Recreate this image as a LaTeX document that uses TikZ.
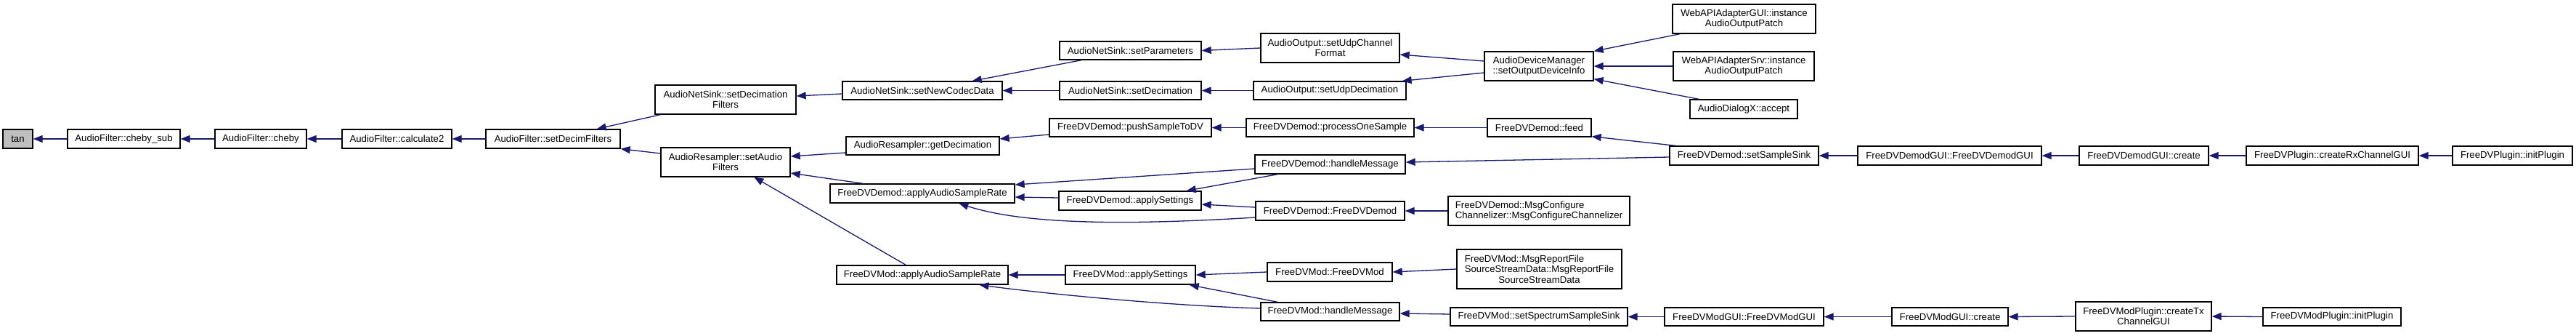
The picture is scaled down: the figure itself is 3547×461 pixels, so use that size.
\documentclass[tikz,border=0pt]{standalone}
\usepackage{fontspec}
\setmainfont{Liberation Sans}
\usetikzlibrary{arrows.meta}
\definecolor{edgecol}{RGB}{25,25,112}
\definecolor{tangray}{RGB}{191,191,191}
\newcommand\bx[7][]{\node[box,#1,minimum width={#4-#3},minimum height={#6-#5}] (#2) at ({(#3+#4)/2},{(#5+#6)/2}) {#7};}
\begin{document}
\begin{tikzpicture}[x=1pt,y=-1pt,
  box/.style={draw=black,line width=1.3pt,fill=white,inner sep=0pt,align=center,
    font=\fontsize{13.2}{14.5}\selectfont},
  e/.style={draw=edgecol,line width=1.3pt,-{Triangle[length=13pt,width=10pt]},color=edgecol}]
\useasboundingbox[fill=white] (0,0) rectangle (3547,461);
% column 0-4
\bx[fill=tangray]{tan}{4}{45}{178}{204}{tan}
\bx{cs}{93}{248}{178}{204}{AudioFilter::cheby\_sub}
\bx{ch}{296}{422}{178}{204}{AudioFilter::cheby}
\bx{calc}{471}{622}{178}{204}{AudioFilter::calculate2}
\bx{sdf}{669}{854}{178}{204}{AudioFilter::setDecimFilters}
% column 5
\bx{ansdf}{902}{1096}{117}{157}{AudioNetSink::setDecimation\\Filters}
\bx{arsaf}{910}{1088}{203}{243}{AudioResampler::setAudio\\Filters}
% column 6
\bx{ansncd}{1160}{1380}{112}{137}{AudioNetSink::setNewCodecData}
\bx{argd}{1165}{1376}{188}{213}{AudioResampler::getDecimation}
\bx{fddaasr}{1143}{1397}{253}{279}{FreeDVDemod::applyAudioSampleRate}
\bx{fdmaasr}{1152}{1388}{365}{391}{FreeDVMod::applyAudioSampleRate}
% column 7
\bx{ansp}{1459}{1654}{57}{82}{AudioNetSink::setParameters}
\bx{ansd}{1459}{1654}{112}{137}{AudioNetSink::setDecimation}
\bx{pstd}{1445}{1668}{163}{188}{FreeDVDemod::pushSampleToDV}
\bx{fddas}{1458}{1654}{263}{289}{FreeDVDemod::applySettings}
\bx{fdmas}{1467}{1646}{365}{391}{FreeDVMod::applySettings}
% column 8
\bx{aosucf}{1736}{1927}{46}{86}{AudioOutput::setUdpChannel\\Format}
\bx{aosud}{1726}{1936}{112}{137}{AudioOutput::setUdpDecimation}
\bx{fddpos}{1716}{1947}{163}{188}{FreeDVDemod::processOneSample}
\bx{fddhm}{1728}{1935}{213}{239}{FreeDVDemod::handleMessage}
\bx{fddfdd}{1729}{1934}{277}{303}{FreeDVDemod::FreeDVDemod}
\bx{fdmfdm}{1745}{1917}{361}{387}{FreeDVMod::FreeDVMod}
\bx{fdmhm}{1736}{1927}{416}{441}{FreeDVMod::handleMessage}
% column 9
\bx{adm}{2044}{2194}{71}{111}{AudioDeviceManager\\::setOutputDeviceInfo}
\bx{feed}{2048}{2191}{163}{188}{FreeDVDemod::feed}
\bx[align=left]{msgcc}{1994}{2244}{270}{310}{FreeDVDemod::MsgConfigure\\Channelizer::MsgConfigureChannelizer}
\bx{msgrf}{2006}{2233}{343}{397}{\rlap{FreeDVMod::MsgReportFile}\phantom{SourceStreamData::MsgReportFile}\\SourceStreamData::MsgReportFile\\SourceStreamData}
\bx{fdmsss}{1997}{2241}{423}{448}{FreeDVMod::setSpectrumSampleSink}
% column 10
\bx{webgui}{2303}{2500}{6}{46}{WebAPIAdapterGUI::instance\\AudioOutputPatch}
\bx{websrv}{2304}{2498}{71}{111}{WebAPIAdapterSrv::instance\\AudioOutputPatch}
\bx{adx}{2327}{2475}{137}{163}{AudioDialogX::accept}
\bx{fddss}{2299}{2504}{201}{227}{FreeDVDemod::setSampleSink}
\bx{fdmguictor}{2292}{2511}{423}{448}{FreeDVModGUI::FreeDVModGUI}
% columns 11-14
\bx{fddguictor}{2558}{2811}{201}{227}{FreeDVDemodGUI::FreeDVDemodGUI}
\bx{fddguicreate}{2863}{3041}{201}{227}{FreeDVDemodGUI::create}
\bx{fdpcrx}{3093}{3330}{201}{227}{FreeDVPlugin::createRxChannelGUI}
\bx{fdpinit}{3377}{3542}{201}{227}{FreeDVPlugin::initPlugin}
\bx{fdmguicreate}{2605}{2765}{423}{448}{FreeDVModGUI::create}
\bx{fdmpctx}{2858}{3045}{415}{455}{FreeDVModPlugin::createTx\\ChannelGUI}
\bx{fdmpinit}{3116}{3306}{423}{448}{FreeDVModPlugin::initPlugin}
% edges
\draw[e] (cs.west) -- (tan.east);
\draw[e] (ch.west) -- (cs.east);
\draw[e] (calc.west) -- (ch.east);
\draw[e] (sdf.west) -- (calc.east);
\draw[e] ([xshift=8pt]ansdf.south west) -- ([xshift=-33pt]sdf.north east);
\draw[e] ([yshift=12pt]arsaf.west) -- (sdf.south east);
\draw[e] ([yshift=-4.5pt]ansncd.west) -- ([yshift=5pt]ansdf.east);
\draw[e] ([yshift=-9.5pt]argd.west) -- ([yshift=8pt]arsaf.east);
\draw[e] ([xshift=46pt]fddaasr.north west) -- ([yshift=-15pt]arsaf.east);
\draw[e] ([xshift=96pt]fdmaasr.north west) -- ([xshift=129pt]arsaf.south west);
\draw[e] ([xshift=31pt]ansp.south west) -- ([xshift=-42pt]ansncd.north east);
\draw[e] (ansd.west) -- (ansncd.east);
\draw[e] ([yshift=-9.5pt]pstd.west) -- ([yshift=9.5pt]argd.east);
\draw[e] ([yshift=-6pt]fddhm.west) -- ([yshift=12pt]fddaasr.east);
\draw[e] ([yshift=4pt]fddas.west) -- ([yshift=-5pt]fddaasr.east);
\draw[e] ([yshift=-9pt]fddfdd.west) .. controls +(-149,9) and +(99,32) .. ([xshift=178pt]fddaasr.south west);
\draw[e] ([xshift=32pt]fddhm.south west) -- ([xshift=-21pt]fddas.north east);
\draw[e] ([yshift=5pt]fddfdd.west) -- ([yshift=-5pt]fddas.east);
\draw[e] (fdmas.west) -- (fdmaasr.east);
\draw[e] ([yshift=4.5pt]fdmhm.west) .. controls +(-135,-4) and +(81,11) .. ([xshift=197pt]fdmaasr.south west);
\draw[e] (fdmfdm.west) -- (fdmas.east);
\draw[e] ([xshift=24pt]fdmhm.north west) -- ([xshift=-9pt]fdmas.south east);
\draw[e] (aosucf.west) -- (ansp.east);
\draw[e] (aosud.west) -- (ansd.east);
\draw[e] (fddpos.west) -- (pstd.east);
\draw[e] ([yshift=7pt]adm.west) -- ([yshift=-9pt]aosucf.east);
\draw[e] ([yshift=-9pt]adm.west) -- ([xshift=-6pt]aosud.north east);
\draw[e] (feed.west) -- (fddpos.east);
\draw[e] ([yshift=-2pt]fddss.west) -- ([yshift=3pt]fddhm.east);
\draw[e] ([xshift=9pt]fddss.north west) -- ([yshift=1pt]feed.south east);
\draw[e] (msgcc.west) -- (fddfdd.east);
\draw[e] (msgrf.west) -- (fdmfdm.east);
\draw[e] ([yshift=3.5pt]fdmsss.west) -- ([yshift=-2.5pt]fdmhm.east);
\draw[e] ([xshift=11pt]webgui.south west) -- (adm.north east);
\draw[e] (websrv.west) -- (adm.east);
\draw[e] ([xshift=13pt]adx.north west) -- ([yshift=3pt]adm.south east);
\draw[e] (fddguictor.west) -- (fddss.east);
\draw[e] (fdmguictor.west) -- (fdmsss.east);
\draw[e] (fddguicreate.west) -- (fddguictor.east);
\draw[e] (fdpcrx.west) -- (fddguicreate.east);
\draw[e] (fdpinit.west) -- (fdpcrx.east);
\draw[e] (fdmguicreate.west) -- (fdmguictor.east);
\draw[e] (fdmpctx.west) -- (fdmguicreate.east);
\draw[e] (fdmpinit.west) -- (fdmpctx.east);
\end{tikzpicture}
\end{document}
